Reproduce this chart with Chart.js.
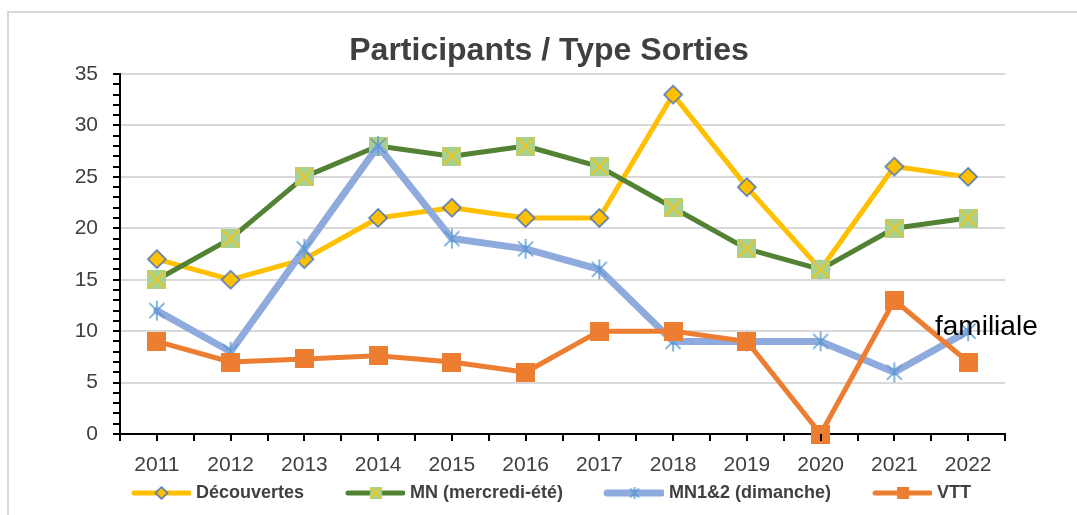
<!DOCTYPE html>
<html>
<head>
<meta charset="utf-8">
<script src="https://cdn.jsdelivr.net/npm/chart.js@4"></script>
<style>
  body { margin: 0; background: #fff; }
  canvas { display: block; }
</style>
</head>
<body>
<canvas id="chartLine" width="1077" height="515"></canvas>
<script>
const years = ["2011", "2012", "2013", "2014", "2015", "2016", "2017", "2018", "2019", "2020", "2021", "2022"];
const decouvertes = [17, 15, 17, 21, 22, 21, 21, 33, 24, 16, 26, 25];
const mnEte = [15, 19, 25, 28, 27, 28, 26, 22, 18, 16, 20, 21];
const mnDimanche = [12, 8, 18, 28, 19, 18, 16, 9, 9, 9, 6, 10];
const vtt = [9, 7, 7.3, 7.6, 7, 6, 10, 10, 9, 0, 13, 7];
const yTicks = [0, 5, 10, 15, 20, 25, 30, 35];

const FONT = "'Liberation Sans', Arial, sans-serif";

// marker shapes drawn on small canvases
function diamond(r) {
    const c = document.createElement("canvas");
    c.width = c.height = r * 2 + 4;
    const g = c.getContext("2d"), m = r + 2;
    g.beginPath();
    g.moveTo(m, m - r); g.lineTo(m + r, m); g.lineTo(m, m + r); g.lineTo(m - r, m); g.closePath();
    g.fillStyle = "#FFC000"; g.fill();
    g.lineWidth = 1.5; g.strokeStyle = "#4472C4"; g.stroke();
    return c;
}
function crossSquare(s) {
    const c = document.createElement("canvas");
    c.width = c.height = s;
    const g = c.getContext("2d");
    g.fillStyle = "#A9D18E"; g.fillRect(0, 0, s, s);
    g.strokeStyle = "#FFC000"; g.lineWidth = 1.5;
    g.beginPath();
    g.moveTo(1, 1); g.lineTo(s - 1, s - 1);
    g.moveTo(s - 1, 1); g.lineTo(1, s - 1);
    g.stroke();
    return c;
}
function asterisk(r) {
    const c = document.createElement("canvas");
    c.width = c.height = r * 2 + 2;
    const g = c.getContext("2d"), m = r + 1, d = r * 0.75;
    g.strokeStyle = "#5B9BD5"; g.lineWidth = 1.5;
    g.beginPath();
    g.moveTo(m, m - r); g.lineTo(m, m + r);
    g.moveTo(m - d, m - d); g.lineTo(m + d, m + d);
    g.moveTo(m + d, m - d); g.lineTo(m - d, m + d);
    g.stroke();
    return c;
}
function square(s) {
    const c = document.createElement("canvas");
    c.width = c.height = s;
    const g = c.getContext("2d");
    g.fillStyle = "#ED7D31"; g.fillRect(0, 0, s, s);
    return c;
}
// legend symbol: line with the marker in its middle
function legendSymbol(color, width, marker) {
    const c = document.createElement("canvas");
    c.width = 105; c.height = 20;
    const g = c.getContext("2d");
    g.strokeStyle = color; g.lineWidth = width; g.lineCap = "round";
    g.beginPath(); g.moveTo(48, 10); g.lineTo(103, 10); g.stroke();
    g.drawImage(marker, 75.5 - marker.width / 2, 10 - marker.height / 2);
    return c;
}

const series = [
    { label: "Découvertes", data: decouvertes, color: "#FFC000", width: 5, marker: diamond(9), small: diamond(6) },
    { label: "MN (mercredi-été)", data: mnEte, color: "#548235", width: 5, marker: crossSquare(19), small: crossSquare(12) },
    { label: "MN1&2 (dimanche)", data: mnDimanche, color: "#8FAADC", width: 7, marker: asterisk(10), small: asterisk(6) },
    { label: "VTT", data: vtt, color: "#ED7D31", width: 5, marker: square(19), small: square(12) },
];

const decor = {
    id: "decor",
    beforeDraw(chart) {
        const ctx = chart.ctx;
        ctx.save();
        ctx.fillStyle = "#fff";
        ctx.fillRect(0, 0, chart.width, chart.height);
        ctx.strokeStyle = "#d9d9d9";
        ctx.lineWidth = 2;
        ctx.beginPath();
        ctx.moveTo(8, chart.height); ctx.lineTo(8, 12); ctx.lineTo(chart.width, 12);
        ctx.stroke();
        ctx.fillStyle = "#404040";
        ctx.font = "bold 32px " + FONT;
        ctx.textAlign = "center";
        ctx.textBaseline = "middle";
        ctx.fillText("Participants / Type Sorties", 549, 51);
        ctx.restore();
    },
    afterDraw(chart) {
        const ctx = chart.ctx, a = chart.chartArea;
        const x = chart.scales.x, y = chart.scales.y;
        ctx.save();
        ctx.strokeStyle = "#000";
        ctx.lineWidth = 2;
        ctx.beginPath();
        for (let v = y.min; v <= y.max; v++) {
            const py = Math.round(y.getPixelForValue(v));
            ctx.moveTo(a.left - 7, py); ctx.lineTo(a.left, py);
        }
        const n = years.length * 2;
        for (let i = 0; i <= n; i++) {
            const px = Math.round(a.left + (a.right - a.left) * i / n);
            ctx.moveTo(px, a.bottom); ctx.lineTo(px, a.bottom + 7);
        }
        ctx.stroke();
        ctx.fillStyle = "#000";
        ctx.font = "28px " + FONT;
        ctx.textBaseline = "alphabetic";
        ctx.fillText("familiale", a.right - 70, y.getPixelForValue(10) + 4);
        ctx.restore();
    },
};

const chartLine = new Chart("chartLine", {
    type: "line",
    data: {
        labels: years,
        datasets: series.map((s, i) => ({
            label: s.label,
            data: s.data,
            borderColor: s.color,
            backgroundColor: s.color,
            borderWidth: s.width,
            borderJoinStyle: "round",
            borderCapStyle: "round",
            pointStyle: s.marker,
            tension: 0,
            fill: false,
            clip: false,
            order: series.length - i,
        })),
    },
    options: {
        responsive: false,
        animation: false,
        events: [],
        layout: {
            padding: { left: 56, right: 72, top: 74, bottom: 3 },
        },
        plugins: {
            title: { display: false },
            tooltip: { enabled: false },
            legend: {
                position: "bottom",
                labels: {
                    usePointStyle: true,
                    pointStyleWidth: 97,
                    padding: 0,
                    color: "#404040",
                    font: { family: FONT, size: 18, weight: "bold" },
                    generateLabels: () => series.map((s, i) => ({
                        text: s.label,
                        pointStyle: legendSymbol(s.color, s.width, s.small),
                        fontColor: "#404040",
                        lineWidth: 0,
                        hidden: false,
                        datasetIndex: i,
                    })),
                },
            },
        },
        scales: {
            x: {
                offset: true,
                afterFit: (scale) => { scale.height = 50; },
                grid: { display: false, offset: true },
                border: { display: true, color: "#000", width: 2 },
                ticks: {
                    color: "#404040",
                    padding: 11,
                    font: { family: FONT, size: 21 },
                    maxRotation: 0,
                },
            },
            y: {
                min: 0,
                max: 35,
                afterFit: (scale) => { scale.width = 64; },
                afterBuildTicks: (scale) => { scale.ticks = yTicks.map((v) => ({ value: v })); },
                grid: { color: "#d9d9d9", lineWidth: 2, drawTicks: false },
                border: { display: true, color: "#000", width: 2 },
                ticks: {
                    color: "#404040",
                    padding: 22,
                    font: { family: FONT, size: 21 },
                },
            },
        },
    },
    plugins: [decor],
});
</script>
</body>
</html>
